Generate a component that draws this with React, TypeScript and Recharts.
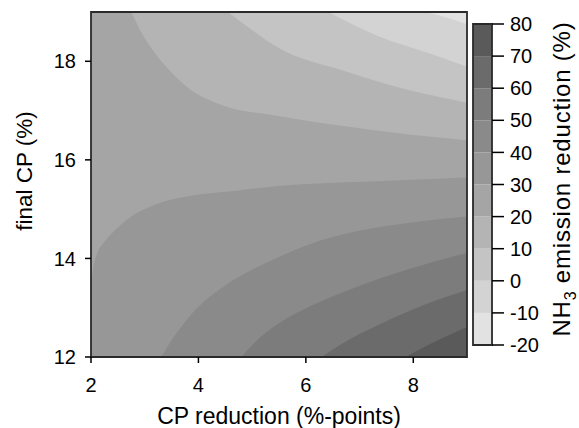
import React from "react";
import { ComposedChart, Area, Line, XAxis, YAxis, Label } from "recharts";

const FONT = "'Liberation Sans', Arial, sans-serif";

const X_DOMAIN = [2, 9];
const Y_DOMAIN = [12, 19];
const X_TICKS = [2, 4, 6, 8];
const Y_TICKS = [12, 14, 16, 18];
const BAR_DOMAIN = [-20, 80];
const BAR_TICKS = [-20, -10, 0, 10, 20, 30, 40, 50, 60, 70, 80];

// colour bands, -20..-10 (lightest) up to 70..80 (darkest)
const BAND_LOWS = [-20, -10, 0, 10, 20, 30, 40, 50, 60, 70];
const BAND_COLORS = [
  "#e2e2e2",
  "#d3d3d3",
  "#c4c4c4",
  "#b4b4b4",
  "#a5a5a5",
  "#979797",
  "#8a8a8a",
  "#7c7c7c",
  "#6b6b6b",
  "#5a5a5a",
];

// contour lines (x = CP reduction, y = final CP)
const LEVEL_M10 = [
  { x: 8.22, y: 19 },
  { x: 8.65, y: 18.88 },
  { x: 9, y: 18.75 },
];
const LEVEL_0 = [
  { x: 6.42, y: 19 },
  { x: 7.35, y: 18.51 },
  { x: 8.28, y: 18.17 },
  { x: 9, y: 17.89 },
];
const LEVEL_10 = [
  { x: 4.55, y: 19 },
  { x: 4.99, y: 18.64 },
  { x: 5.48, y: 18.28 },
  { x: 6.73, y: 17.8 },
  { x: 7.97, y: 17.4 },
  { x: 9, y: 17.16 },
];
const LEVEL_20 = [
  { x: 2.75, y: 19 },
  { x: 2.94, y: 18.58 },
  { x: 3.19, y: 18.17 },
  { x: 3.5, y: 17.77 },
  { x: 3.81, y: 17.46 },
  { x: 4.42, y: 17.12 },
  { x: 5.48, y: 16.89 },
  { x: 6.73, y: 16.68 },
  { x: 7.96, y: 16.51 },
  { x: 9, y: 16.4 },
];
const LEVEL_30 = [
  { x: 2, y: 13.45 },
  { x: 2.05, y: 13.85 },
  { x: 2.13, y: 14.14 },
  { x: 2.25, y: 14.34 },
  { x: 2.38, y: 14.5 },
  { x: 2.55, y: 14.68 },
  { x: 2.75, y: 14.85 },
  { x: 3.19, y: 15.09 },
  { x: 3.81, y: 15.26 },
  { x: 4.74, y: 15.38 },
  { x: 5.48, y: 15.47 },
  { x: 7.2, y: 15.56 },
  { x: 9, y: 15.64 },
];
const LEVEL_40 = [
  { x: 3.31, y: 12 },
  { x: 3.55, y: 12.42 },
  { x: 3.81, y: 12.79 },
  { x: 4.1, y: 13.12 },
  { x: 4.43, y: 13.4 },
  { x: 5.05, y: 13.8 },
  { x: 5.48, y: 14.02 },
  { x: 6.1, y: 14.3 },
  { x: 6.73, y: 14.5 },
  { x: 7.97, y: 14.73 },
  { x: 9, y: 14.85 },
];
const LEVEL_50 = [
  { x: 4.8, y: 12 },
  { x: 5.1, y: 12.35 },
  { x: 5.48, y: 12.67 },
  { x: 6.1, y: 13.04 },
  { x: 6.73, y: 13.33 },
  { x: 7.97, y: 13.8 },
  { x: 9, y: 14.11 },
];
const LEVEL_60 = [
  { x: 6.29, y: 12 },
  { x: 6.8, y: 12.35 },
  { x: 7.35, y: 12.65 },
  { x: 8.28, y: 13.09 },
  { x: 9, y: 13.36 },
];
const LEVEL_70 = [
  { x: 7.85, y: 12 },
  { x: 8.4, y: 12.31 },
  { x: 9, y: 12.61 },
];

// upper lines: value falls going up, fill towards the top edge
const UPPER = [
  { level: 20, points: LEVEL_20 },
  { level: 10, points: LEVEL_10 },
  { level: 0, points: LEVEL_0 },
  { level: -10, points: LEVEL_M10 },
];
// lower lines: value rises going down, fill towards the bottom edge
const LOWER = [
  { level: 30, points: LEVEL_30 },
  { level: 40, points: LEVEL_40 },
  { level: 50, points: LEVEL_50 },
  { level: 60, points: LEVEL_60 },
  { level: 70, points: LEVEL_70 },
];

const bandColor = (low: number) => BAND_COLORS[BAND_LOWS.indexOf(low)];

// closed outline around a plotting region
const frame = (xd: number[], yd: number[]) => [
  { x: xd[0], y: yd[0] },
  { x: xd[0], y: yd[1] },
  { x: xd[1], y: yd[1] },
  { x: xd[1], y: yd[0] },
  { x: xd[0], y: yd[0] },
];

const tickStyle = { fill: "#000", fontSize: 20, fontFamily: FONT };
const tickLineStyle = { stroke: "#000", strokeWidth: 1.5 };

export default function App() {
  return (
    <div
      style={{
        position: "absolute",
        left: 0,
        top: 0,
        width: 579,
        height: 428,
        background: "#fff",
        fontFamily: FONT,
      }}
    >
      {/* contour plot */}
      <div style={{ position: "absolute", left: 0, top: 0 }}>
        <ComposedChart width={579} height={428} margin={{ top: 12, right: 112, bottom: 0, left: 0 }}>
          <XAxis
            dataKey="x"
            type="number"
            domain={X_DOMAIN}
            ticks={X_TICKS}
            interval={0}
            height={71}
            tickSize={6}
            tickMargin={15}
            tick={tickStyle}
            tickLine={tickLineStyle}
            axisLine={false}
          >
            <Label
              value="CP reduction (%-points)"
              position="insideBottom"
              offset={4}
              fontSize={23}
              fill="#000"
              fontFamily={FONT}
            />
          </XAxis>
          <YAxis
            type="number"
            domain={Y_DOMAIN}
            ticks={Y_TICKS}
            interval={0}
            width={91}
            tickSize={6}
            tickMargin={9}
            tick={tickStyle}
            tickLine={tickLineStyle}
            axisLine={false}
            label={{
              content: () => (
                <text
                  x={32}
                  y={171}
                  transform="rotate(-90 32 171)"
                  textAnchor="middle"
                  fontSize={22.5}
                  fill="#000"
                  fontFamily={FONT}
                >
                  final CP (%)
                </text>
              ),
            }}
          />

          {/* 20..30 band covers the whole plane underneath the others */}
          <Area
            data={frame(X_DOMAIN, [Y_DOMAIN[1], Y_DOMAIN[1]]).slice(1, 3)}
            dataKey="y"
            type="linear"
            baseValue={Y_DOMAIN[0]}
            fill={bandColor(20)}
            fillOpacity={1}
            stroke="none"
            dot={false}
            activeDot={false}
            isAnimationActive={false}
          />
          {UPPER.map((c) => (
            <Area
              key={`u${c.level}`}
              data={c.points}
              dataKey="y"
              type="monotone"
              baseValue={Y_DOMAIN[1]}
              fill={bandColor(c.level - 10)}
              fillOpacity={1}
              stroke="none"
              dot={false}
              activeDot={false}
              isAnimationActive={false}
            />
          ))}
          {LOWER.map((c) => (
            <Area
              key={`l${c.level}`}
              data={c.points}
              dataKey="y"
              type="monotone"
              baseValue={Y_DOMAIN[0]}
              fill={bandColor(c.level)}
              fillOpacity={1}
              stroke="none"
              dot={false}
              activeDot={false}
              isAnimationActive={false}
            />
          ))}
          <Line
            data={frame(X_DOMAIN, Y_DOMAIN)}
            dataKey="y"
            type="linear"
            stroke="#2a2a2a"
            strokeWidth={1.8}
            strokeLinecap="square"
            dot={false}
            activeDot={false}
            isAnimationActive={false}
          />
        </ComposedChart>
      </div>

      {/* colour key */}
      <div style={{ position: "absolute", left: 0, top: 0 }}>
        <ComposedChart width={579} height={428} margin={{ top: 24, right: 27, bottom: 83, left: 473 }}>
          <XAxis type="number" dataKey="x" domain={[0, 1]} hide />
          <YAxis
            orientation="right"
            type="number"
            domain={BAR_DOMAIN}
            ticks={BAR_TICKS}
            interval={0}
            width={60}
            tickSize={12}
            tickMargin={6}
            tick={tickStyle}
            tickLine={tickLineStyle}
            axisLine={false}
          />
          {BAND_LOWS.map((lo, i) => (
            <Area
              key={lo}
              data={[
                { x: 0, y: lo + 10 },
                { x: 1, y: lo + 10 },
              ]}
              dataKey="y"
              type="linear"
              baseValue={lo}
              fill={BAND_COLORS[i]}
              fillOpacity={1}
              stroke="none"
              dot={false}
              activeDot={false}
              isAnimationActive={false}
            />
          ))}
          <Line
            data={frame([0, 1], BAR_DOMAIN)}
            dataKey="y"
            type="linear"
            stroke="#2a2a2a"
            strokeWidth={1.8}
            strokeLinecap="square"
            dot={false}
            activeDot={false}
            isAnimationActive={false}
          />
        </ComposedChart>
        <svg
          width={579}
          height={428}
          style={{ position: "absolute", left: 0, top: 0, pointerEvents: "none" }}
        >
          <text
            x={570}
            y={179}
            transform="rotate(-90 570 179)"
            textAnchor="middle"
            fontSize={24}
            letterSpacing={0.8}
            fill="#000"
            fontFamily={FONT}
          >
            NH
            <tspan fontSize={16} dy={6}>
              3
            </tspan>
            <tspan dy={-6}> emission reduction (%)</tspan>
          </text>
        </svg>
      </div>
    </div>
  );
}
